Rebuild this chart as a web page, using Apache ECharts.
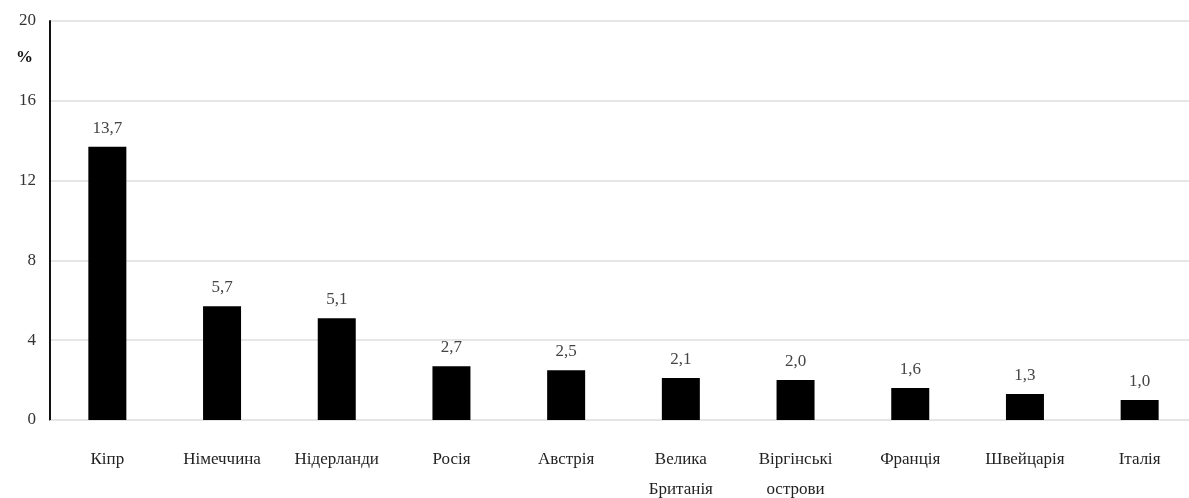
<!DOCTYPE html>
<html><head><meta charset="utf-8">
<script src="https://cdn.jsdelivr.net/npm/echarts@6/dist/echarts.min.js"></script>
<style>html,body{margin:0;padding:0;background:#fff}#c{width:1189px;height:498px}</style>
</head><body><div id="c"></div>
<script>
const categories = ['Кіпр','Німеччина','Нідерланди','Росія','Австрія','Велика\nБританія','Віргінські\nострови','Франція','Швейцарія','Італія'];
const values = [13.7, 5.7, 5.1, 2.7, 2.5, 2.1, 2.0, 1.6, 1.3, 1.0];
const yTicks = [0, 4, 8, 12, 16, 20];
const font = '"Liberation Serif", "DejaVu Serif", serif';
const chart = echarts.init(document.getElementById('c'));
chart.setOption({
  animation: false,
  title: { text: '%', left: 11, top: 44, textStyle: { fontFamily: font, fontSize: 17, fontWeight: 'bold', color: '#111' } },
  grid: { left: 50, top: 21, width: 1147, height: 399, containLabel: false, outerBoundsMode: 'none' },
  xAxis: {
    type: 'category', data: categories,
    axisLine: { show: true, lineStyle: { color: '#e4e4e4', width: 1 } },
    axisTick: { show: false },
    axisLabel: { fontFamily: font, fontSize: 17, color: '#222', margin: 25, lineHeight: 30, interval: 0 }
  },
  yAxis: {
    type: 'value', min: yTicks[0], max: yTicks[yTicks.length - 1], interval: 4,
    axisLine: { show: true, lineStyle: { color: '#111', width: 2 } },
    axisTick: { show: false },
    axisLabel: { fontFamily: font, fontSize: 17, color: '#333', margin: 14 },
    splitLine: { show: true, lineStyle: { color: '#e6e6e6', width: 2 } }
  },
  series: [{
    type: 'bar', data: values, barWidth: 38,
    itemStyle: { color: '#000' },
    label: {
      show: true, position: 'top', distance: 10,
      fontFamily: font, fontSize: 17, color: '#444',
      formatter: p => p.value.toFixed(1).replace('.', ',')
    }
  }]
});
</script></body></html>
